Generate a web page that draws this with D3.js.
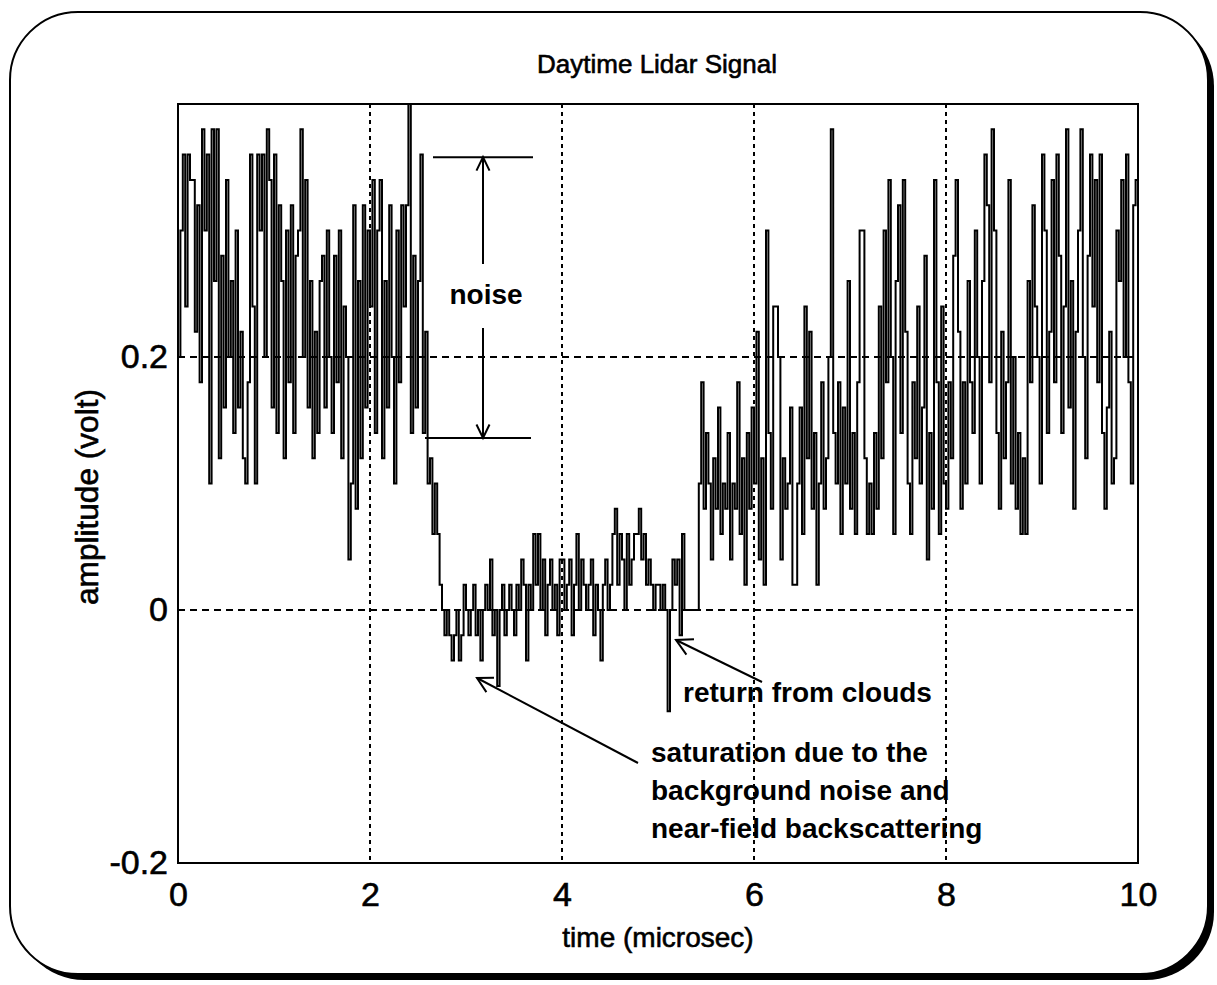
<!DOCTYPE html>
<html><head><meta charset="utf-8">
<script src="https://cdn.jsdelivr.net/npm/d3@7"></script>
<style>
html,body{margin:0;padding:0;background:#fff;}
svg{display:block;font-family:"Liberation Sans",Arial,Helvetica,sans-serif;}
</style>
</head><body>
<svg id="chart" width="1217" height="985"></svg>
<script>
// ---------------- data ----------------
const timeStep = 0.025; // microsec per sample
const noisyStart = [
  0.20, 0.30, 0.36, 0.24, 0.36, 0.34, 0.34, 0.22, 0.32, 0.18,
  0.38, 0.30, 0.36, 0.10, 0.38, 0.26, 0.38, 0.12, 0.28, 0.16,
  0.34, 0.20, 0.26, 0.14, 0.30, 0.16, 0.22, 0.12, 0.10, 0.18,
  0.36, 0.24, 0.10, 0.36, 0.30, 0.36, 0.20, 0.38, 0.34, 0.16,
  0.36, 0.14, 0.32, 0.26, 0.12, 0.30, 0.18, 0.32, 0.14, 0.28,
  0.30, 0.38, 0.20, 0.34, 0.16, 0.26, 0.12, 0.22, 0.14, 0.26,
  0.28, 0.16, 0.30, 0.20, 0.14, 0.28, 0.18, 0.30, 0.12, 0.24,
  0.20, 0.04, 0.10, 0.32, 0.08, 0.26, 0.12, 0.32, 0.16, 0.30,
  0.24, 0.34, 0.14, 0.30, 0.34, 0.12, 0.26, 0.16, 0.32, 0.20,
  0.10, 0.30, 0.18, 0.32, 0.24, 0.32, 0.40, 0.14, 0.28, 0.16
];
const dropOff = [0.26, 0.36, 0.14, 0.22, 0.10, 0.12, 0.06, 0.10, 0.06, 0.02, 0.00, -0.02];
const saturated = [
  0.00, -0.02, -0.04, -0.02, 0.00, -0.04, -0.02, 0.02,
  0.00, -0.02, 0.00, 0.02, -0.02, 0.00, -0.04, 0.00,
  0.02, 0.00, 0.04, -0.02, 0.00, -0.06, 0.00, 0.02,
  -0.02, 0.00, 0.02, 0.00, -0.02, 0.02, 0.00, 0.04,
  0.02, -0.04, 0.02, 0.00, 0.06, 0.02, 0.06, 0.00,
  0.04, -0.02, 0.02, 0.04, 0.00, 0.02, -0.02, 0.04,
  0.04, 0.00, 0.02, 0.04, -0.02, 0.02, 0.06, 0.00,
  0.04, 0.02, 0.00, 0.02, 0.04, -0.02, 0.02, 0.00,
  -0.04, 0.02, 0.04, 0.00, 0.02, 0.06, 0.08, 0.02,
  0.06, 0.04, 0.00, 0.06, 0.02, 0.04, 0.06, 0.06,
  0.08, 0.04, 0.06, 0.02, 0.04, 0.02, 0.00, 0.02,
  0.02, 0.00, 0.02, 0.00, -0.08, 0.00, 0.04, 0.02
];
const recovery = [
  0.04, -0.02, 0.06, 0.00, 0.00, 0.00, 0.00, 0.00,
  0.00, 0.10, 0.18, 0.08, 0.14, 0.10, 0.04, 0.12,
  0.08, 0.16, 0.06, 0.10, 0.08, 0.14, 0.04, 0.10,
  0.08, 0.18, 0.06, 0.12, 0.02, 0.14, 0.08, 0.16
];
const noisyEnd = [
  0.10, 0.22, 0.04, 0.12, 0.02, 0.30, 0.14, 0.08,
  0.24, 0.24, 0.20, 0.04, 0.12, 0.08, 0.10, 0.16,
  0.02, 0.02, 0.10, 0.16, 0.06, 0.24, 0.12, 0.22,
  0.08, 0.14, 0.02, 0.10, 0.18, 0.08, 0.12, 0.20,
  0.38, 0.14, 0.10, 0.18, 0.06, 0.16, 0.10, 0.26,
  0.08, 0.14, 0.06, 0.18, 0.30, 0.30, 0.12, 0.06,
  0.10, 0.06, 0.14, 0.08, 0.24, 0.12, 0.30, 0.18,
  0.34, 0.20, 0.06, 0.26, 0.32, 0.14, 0.34, 0.22,
  0.10, 0.06, 0.18, 0.12, 0.24, 0.10, 0.16, 0.28,
  0.04, 0.14, 0.08, 0.34, 0.18, 0.06, 0.24, 0.10,
  0.08, 0.18, 0.12, 0.28, 0.34, 0.22, 0.08, 0.18,
  0.10, 0.26, 0.18, 0.14, 0.30, 0.20, 0.10, 0.26,
  0.36, 0.32, 0.18, 0.38, 0.30, 0.14, 0.08, 0.22,
  0.12, 0.18, 0.34, 0.10, 0.20, 0.08, 0.14, 0.06,
  0.12, 0.06, 0.26, 0.18, 0.32, 0.24, 0.20, 0.10,
  0.36, 0.30, 0.14, 0.22, 0.34, 0.18, 0.36, 0.28,
  0.14, 0.24, 0.38, 0.16, 0.26, 0.08, 0.22, 0.30,
  0.38, 0.20, 0.12, 0.28, 0.36, 0.24, 0.34, 0.18,
  0.36, 0.14, 0.08, 0.16, 0.22, 0.10, 0.12, 0.30,
  0.26, 0.34, 0.20, 0.36, 0.18, 0.10, 0.32, 0.34
];
const xTicks = [0, 2, 4, 6, 8, 10];
const xTickLabels = ["0", "2", "4", "6", "8", "10"];
const yTicks = [-0.2, 0, 0.2];
const yTickLabels = ["-0.2", "0", "0.2"];
const xGridValues = [2, 4, 6, 8];
const yGridValues = [0, 0.2];
const titleText = "Daytime Lidar Signal";
const xLabelText = "time (microsec)";
const yLabelText = "amplitude (volt)";
const noteNoise = "noise";
const noteClouds = "return from clouds";
const noteSaturation = ["saturation due to the", "background noise and", "near-field backscattering"];
const noiseBand = [0.358, 0.136];   // top / bottom of the marked noise band (volt)

// ---------------- build ----------------
const amplitude = [].concat(noisyStart, dropOff, saturated, recovery, noisyEnd);
const points = amplitude.map((v, i) => [i * timeStep, v]);
points.push([10, amplitude[amplitude.length - 1]]);

const svg = d3.select("#chart");
const x = d3.scaleLinear().domain([0, 10]).range([178, 1138]);
const y = d3.scaleLinear().domain([-0.2, 0.4]).range([863, 104]);

// rounded card with drop shadow
svg.append("rect").attr("x", 16).attr("y", 18).attr("width", 1198).attr("height", 962)
  .attr("rx", 68).attr("ry", 68).attr("fill", "#000");
svg.append("rect").attr("x", 10).attr("y", 12).attr("width", 1198).attr("height", 962)
  .attr("rx", 68).attr("ry", 68).attr("fill", "#fff").attr("stroke", "#000").attr("stroke-width", 2);

// signal
const line = d3.line().x(d => x(d[0])).y(d => y(d[1])).curve(d3.curveStepAfter);
svg.append("path").datum(points).attr("d", line)
  .attr("fill", "none").attr("stroke", "#000").attr("stroke-width", 2);

// axes
const textStroke = sel => sel.attr("stroke", "#000").attr("stroke-width", 0.6).attr("fill", "#000");
const xAxis = d3.axisBottom(x).tickValues(xTicks).tickFormat((d, i) => xTickLabels[i])
  .tickSize(0).tickPadding(19);
const gx = svg.append("g").attr("transform", `translate(0,${y(-0.2)})`).call(xAxis);
gx.select(".domain").remove();
gx.selectAll("text").attr("font-size", 34).attr("font-family", "Liberation Sans, Arial, sans-serif").call(textStroke);

const yAxis = d3.axisLeft(y).tickValues(yTicks).tickFormat((d, i) => yTickLabels[i])
  .tickSize(0).tickPadding(10);
const gy = svg.append("g").attr("transform", `translate(${x(0)},0)`).call(yAxis);
gy.select(".domain").remove();
gy.selectAll("text").attr("font-size", 34).attr("font-family", "Liberation Sans, Arial, sans-serif").call(textStroke);

// frame
svg.append("rect").attr("x", x(0)).attr("y", y(0.4)).attr("width", x(10) - x(0)).attr("height", y(-0.2) - y(0.4))
  .attr("fill", "none").attr("stroke", "#000").attr("stroke-width", 2);

// titles
svg.append("text").attr("x", 657).attr("y", 73).attr("text-anchor", "middle")
  .attr("font-size", 26).call(textStroke).text(titleText);
svg.append("text").attr("x", 658).attr("y", 947).attr("text-anchor", "middle")
  .attr("font-size", 28).call(textStroke).text(xLabelText);
svg.append("text").attr("transform", "translate(98,497) rotate(-90)").attr("text-anchor", "middle")
  .attr("font-size", 32).attr("textLength", 216).attr("lengthAdjust", "spacingAndGlyphs")
  .call(textStroke).text(yLabelText);

// annotations
function arrowHead(g, tip, from, len, ang) {
  const a = Math.atan2(from[1] - tip[1], from[0] - tip[0]);
  const p1 = [tip[0] + len * Math.cos(a + ang), tip[1] + len * Math.sin(a + ang)];
  const p2 = [tip[0] + len * Math.cos(a - ang), tip[1] + len * Math.sin(a - ang)];
  g.append("path").attr("d", `M${p1[0]},${p1[1]}L${tip[0]},${tip[1]}L${p2[0]},${p2[1]}`)
    .attr("fill", "none").attr("stroke", "#000").attr("stroke-width", 2);
}
const ann = svg.append("g");
const noiseX = 483;
const yTop = y(noiseBand[0]), yBot = y(noiseBand[1]);
ann.append("line").attr("x1", 433).attr("x2", 533).attr("y1", yTop).attr("y2", yTop).attr("stroke", "#000").attr("stroke-width", 2);
ann.append("line").attr("x1", 425).attr("x2", 531).attr("y1", yBot).attr("y2", yBot).attr("stroke", "#000").attr("stroke-width", 2);
ann.append("line").attr("x1", noiseX).attr("x2", noiseX).attr("y1", 264).attr("y2", yTop).attr("stroke", "#000").attr("stroke-width", 2);
ann.append("line").attr("x1", noiseX).attr("x2", noiseX).attr("y1", 328).attr("y2", yBot).attr("stroke", "#000").attr("stroke-width", 2);
arrowHead(ann, [noiseX, yTop], [noiseX, 264], 15, 0.45);
arrowHead(ann, [noiseX, yBot], [noiseX, 328], 15, 0.45);
ann.append("text").attr("x", 486).attr("y", 304).attr("text-anchor", "middle")
  .attr("font-size", 28).attr("font-weight", "bold").text(noteNoise);

const cloudTip = [676, 640], cloudTail = [762, 682];
ann.append("line").attr("x1", cloudTail[0]).attr("y1", cloudTail[1]).attr("x2", cloudTip[0]).attr("y2", cloudTip[1])
  .attr("stroke", "#000").attr("stroke-width", 2);
arrowHead(ann, cloudTip, cloudTail, 18, 0.5);
ann.append("text").attr("x", 683).attr("y", 702).attr("font-size", 28).attr("font-weight", "bold").text(noteClouds);

const satTip = [477, 678], satTail = [638, 763];
ann.append("line").attr("x1", satTail[0]).attr("y1", satTail[1]).attr("x2", satTip[0]).attr("y2", satTip[1])
  .attr("stroke", "#000").attr("stroke-width", 2);
arrowHead(ann, satTip, satTail, 17, 0.5);
noteSaturation.forEach((s, i) => {
  ann.append("text").attr("x", 651).attr("y", 762 + i * 38).attr("font-size", 28).attr("font-weight", "bold").text(s);
});

// grid (dotted, drawn over everything as in the original)
const grid = svg.append("g");
grid.selectAll("line.v").data(xGridValues).join("line").attr("class", "v")
  .attr("x1", d => x(d)).attr("x2", d => x(d)).attr("y1", y(0.4)).attr("y2", y(-0.2))
  .attr("stroke", "#000").attr("stroke-width", 2).attr("stroke-dasharray", "4,4");
grid.selectAll("line.h").data(yGridValues).join("line").attr("class", "h")
  .attr("x1", x(0)).attr("x2", x(10)).attr("y1", d => y(d)).attr("y2", d => y(d))
  .attr("stroke", "#000").attr("stroke-width", 2).attr("stroke-dasharray", "7,5");
</script>
</body></html>
